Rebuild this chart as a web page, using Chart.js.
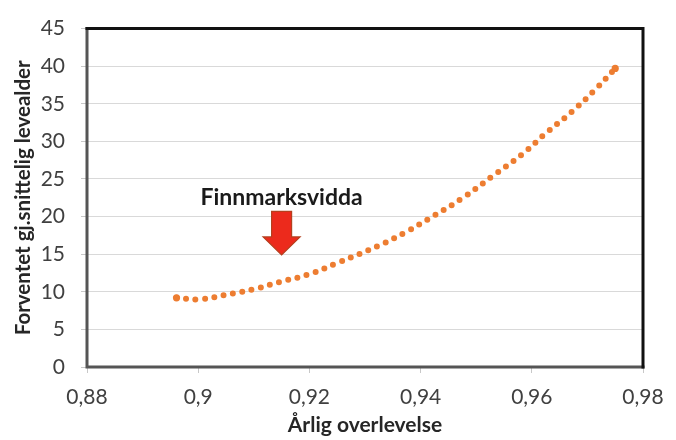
<!DOCTYPE html>
<html>
<head>
<meta charset="utf-8">
<script src="https://cdn.jsdelivr.net/npm/chart.js@4"></script>
<style>
  html, body { margin: 0; padding: 0; background: #fff; }
  #wrap { width: 676px; height: 440px; }
</style>
</head>
<body>
<div id="wrap"><canvas id="grafico" width="676" height="440"></canvas></div>
<script>
// Data
const overlevelse = [0.8961, 0.9003, 0.9063, 0.9103, 0.9146, 0.9198, 0.9252, 0.9324, 0.9375, 0.9426, 0.9474, 0.9537, 0.9583, 0.9627, 0.9673, 0.9717, 0.975];
const levealder = [9.2, 9.0, 9.8, 10.4, 11.3, 12.3, 13.9, 16.1, 18.0, 20.2, 22.4, 25.8, 28.3, 31.2, 34.0, 37.1, 39.7];
const xTicks = [0.88, 0.9, 0.92, 0.94, 0.96, 0.98];
const yTicks = [0, 5, 10, 15, 20, 25, 30, 35, 40, 45];
const merkeTekst = "Finnmarksvidda";
const merkeX = 0.915, merkeTopp = 20.7, merkeSpiss = 14.9;

const punkter = overlevelse.map((x, i) => ({ x: x, y: levealder[i] }));
const komma = v => Number(v.toFixed(2)).toString().replace(".", ",");

// Ramme rundt plotteområdet og pil med tekst
const pynt = {
	id: "pynt",
	beforeDatasetsDraw(chart) {
		const { ctx, chartArea: a } = chart;
		ctx.save();
		ctx.lineWidth = 3;
		ctx.lineCap = "square";
		ctx.strokeStyle = "#555555";
		ctx.beginPath();
		ctx.moveTo(a.left, a.top);
		ctx.lineTo(a.left, a.bottom);
		ctx.lineTo(a.right, a.bottom);
		ctx.stroke();
		ctx.strokeStyle = "#111111";
		ctx.beginPath();
		ctx.moveTo(a.left, a.top);
		ctx.lineTo(a.right, a.top);
		ctx.lineTo(a.right, a.bottom);
		ctx.stroke();
		ctx.restore();
	},
	afterDatasetsDraw(chart) {
		const { ctx } = chart;
		const sx = chart.scales.x, sy = chart.scales.y;
		const cx = sx.getPixelForValue(merkeX);
		const top = sy.getPixelForValue(merkeTopp);
		const tip = sy.getPixelForValue(merkeSpiss);
		const hodeH = 18, skaft = 10, hode = 18.5;
		ctx.save();
		ctx.beginPath();
		ctx.moveTo(cx - skaft, top);
		ctx.lineTo(cx + skaft, top);
		ctx.lineTo(cx + skaft, tip - hodeH);
		ctx.lineTo(cx + hode, tip - hodeH);
		ctx.lineTo(cx, tip);
		ctx.lineTo(cx - hode, tip - hodeH);
		ctx.lineTo(cx - skaft, tip - hodeH);
		ctx.closePath();
		ctx.fillStyle = "#ec2a1c";
		ctx.fill();
		ctx.strokeStyle = "#b4401e";
		ctx.lineWidth = 1.2;
		ctx.stroke();
		ctx.fillStyle = "#1a1a1a";
		ctx.font = "bold 23px Lato";
		ctx.textAlign = "center";
		ctx.textBaseline = "alphabetic";
		ctx.fillText(merkeTekst, cx, top - 6);
		ctx.restore();
	},
};

const sist = overlevelse.length - 1;

const config = {
	type: "line",
	data: {
		datasets: [
			{
				data: punkter,
				borderColor: "#ed7d31",
				backgroundColor: "#ed7d31",
				borderWidth: 6,
				borderDash: [0, 9.5],
				borderCapStyle: "round",
				tension: 0.4,
				pointRadius: ctx => (ctx.dataIndex === 0 || ctx.dataIndex === sist ? 3.6 : 0),
				pointBorderWidth: 0,
			},
		],
	},
	options: {
		responsive: false,
		animation: false,
		devicePixelRatio: 1,
		layout: { padding: { left: 0, top: 22, right: 33, bottom: 0 } },
		plugins: { legend: { display: false }, tooltip: { enabled: false } },
		scales: {
			x: {
				type: "linear",
				min: 0.88,
				max: 0.98,
				afterBuildTicks: s => { s.ticks = xTicks.map(v => ({ value: v })); },
				afterFit: s => { s.height = 73; },
				ticks: { callback: komma, color: "#404040", font: { family: "Lato", size: 21 }, padding: 12, maxRotation: 0 },
				grid: { drawOnChartArea: false, tickLength: 6, color: "#c8c8c8" },
				border: { display: false },
				title: { display: true, text: "Årlig overlevelse", color: "#262626", font: { family: "Lato", size: 21, weight: "bold" }, padding: { top: 0, bottom: 2 } },
			},
			y: {
				min: 0,
				max: 45,
				afterBuildTicks: s => { s.ticks = yTicks.map(v => ({ value: v })); },
				afterFit: s => { s.width = 87; },
				ticks: { color: "#404040", font: { family: "Lato", size: 21 }, padding: 16 },
				grid: { color: "#d9d9d9", tickLength: 6, tickColor: "#c8c8c8" },
				border: { display: false },
				title: { display: true, text: "Forventet gj.snittelig levealder", color: "#262626", font: { family: "Lato", size: 20.5, weight: "bold" }, padding: { top: 11, bottom: 0 } },
			},
		},
	},
	plugins: [pynt],
};

new Chart(document.getElementById("grafico"), config);
</script>
</body>
</html>
